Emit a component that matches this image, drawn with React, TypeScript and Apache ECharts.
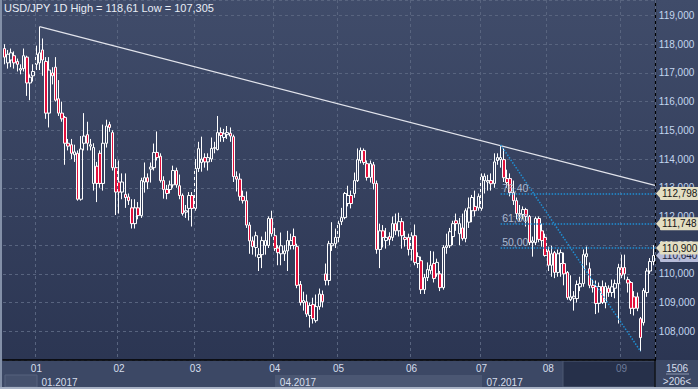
import React, { useEffect, useRef } from "react";
import * as echarts from "echarts";

// [open, close, low, high] per daily bar
const ohlcDec = [
  [117.85, 117.55, 117.3, 118.0], [117.35, 117.65, 117.15, 117.8], [117.45, 117.7, 117.2, 117.85],
  [117.6, 117.35, 117.15, 117.75], [117.4, 117.3, 117.05, 117.5], [117.1, 117.15, 116.95, 117.3],
  [117.15, 117.6, 117.05, 117.85], [117.55, 116.65, 116.2, 117.6], [116.65, 116.85, 116.05, 116.95],
  [116.9, 117.05, 116.7, 117.3],
];
const ohlcJan = [
  [117.3, 117.65, 117.1, 117.95], [117.35, 117.7, 117.1, 118.61], [117.8, 117.45, 116.9, 118.2],
  [117.4, 115.6, 115.4, 117.55], [115.6, 117.1, 115.1, 117.55], [117.0, 116.9, 116.6, 117.2],
  [117.2, 116.05, 116.0, 117.55], [116.1, 115.6, 115.5, 116.75], [115.6, 115.4, 115.3, 116.0],
  [115.45, 114.55, 113.8, 115.5], [114.55, 114.45, 114.3, 114.7], [114.5, 114.2, 114.0, 114.7],
  [114.15, 114.25, 113.9, 114.5], [114.2, 112.6, 112.55, 114.3], [112.6, 114.35, 112.55, 114.8],
  [114.55, 114.8, 114.3, 115.6], [114.85, 114.55, 114.3, 115.3], [114.45, 114.5, 114.3, 114.7],
  [113.15, 114.4, 112.9, 114.55], [113.75, 113.15, 112.5, 113.9], [114.2, 113.15, 113.0, 114.3],
  [113.15, 114.55, 112.9, 115.2], [114.55, 115.15, 114.4, 115.37], [115.2, 115.1, 114.95, 115.3],
  [114.92, 113.7, 113.6, 115.0], [113.7, 112.85, 112.05, 114.0],
];
const ohlcFeb = [
  [113.2, 112.85, 112.1, 113.95], [112.85, 113.2, 112.6, 113.5], [112.77, 112.66, 112.3, 113.5],
  [112.68, 112.55, 112.4, 112.8], [112.3, 111.75, 111.58, 112.6], [111.75, 112.3, 111.58, 112.6],
  [112.3, 112.03, 111.9, 112.5], [112.03, 113.25, 111.95, 113.35], [113.2, 113.35, 112.83, 113.88],
  [113.35, 113.2, 112.95, 113.5], [113.65, 113.72, 113.18, 113.88], [113.7, 114.23, 113.6, 114.54],
  [114.23, 114.05, 113.95, 114.96], [114.1, 113.25, 113.18, 114.2], [113.25, 112.94, 112.62, 113.4],
  [112.94, 112.8, 112.6, 113.1], [112.94, 113.1, 112.8, 113.25], [113.1, 113.6, 113.0, 113.77],
  [113.6, 113.1, 113.0, 113.7], [113.07, 112.73, 112.6, 113.46], [112.73, 112.1, 112.03, 112.8],
  [112.15, 112.2, 111.95, 112.4], [112.28, 112.73, 111.86, 112.85], [112.73, 112.28, 111.65, 112.85],
];
const ohlcMar = [
  [112.28, 113.67, 112.2, 114.0], [113.67, 114.36, 113.55, 114.6], [113.88, 114.0, 113.56, 114.78],
  [114.05, 113.9, 113.7, 114.2], [113.9, 114.05, 113.6, 114.2], [114.0, 114.37, 113.9, 114.75],
  [114.37, 114.4, 114.2, 114.6], [114.33, 114.92, 114.3, 115.5], [114.92, 114.82, 114.6, 115.1],
  [114.75, 114.88, 114.6, 115.05], [114.85, 114.92, 114.7, 115.15], [114.9, 114.8, 114.6, 115.1],
  [114.78, 113.39, 113.2, 114.85], [113.39, 113.3, 112.87, 113.57], [113.3, 112.7, 112.55, 113.5],
  [112.7, 112.55, 112.45, 112.9], [112.55, 111.7, 111.6, 112.87], [111.7, 111.15, 110.7, 111.8],
  [111.15, 110.95, 110.67, 111.3], [110.92, 111.33, 110.6, 111.47], [110.57, 110.67, 110.1, 110.9],
  [110.67, 111.16, 110.2, 111.3], [110.99, 111.16, 110.67, 111.47], [110.99, 111.93, 110.9, 112.0],
  [111.93, 111.4, 111.3, 112.2],
];
const ohlcApr = [
  [111.33, 110.88, 110.8, 111.6], [110.9, 110.74, 110.3, 111.0], [110.7, 110.98, 110.3, 111.44],
  [110.7, 110.8, 110.45, 111.0], [110.8, 111.16, 110.1, 111.5], [110.99, 111.16, 110.85, 111.4],
  [111.3, 110.99, 110.85, 111.58], [110.95, 109.6, 109.5, 111.05], [109.63, 109.0, 108.9, 109.75],
  [109.0, 109.07, 108.72, 109.38], [109.03, 108.6, 108.5, 109.28], [108.55, 108.9, 108.13, 109.0],
  [108.93, 108.44, 108.27, 109.17], [108.37, 108.86, 108.3, 109.28], [108.86, 109.3, 108.75, 109.49],
  [109.28, 109.03, 108.83, 109.42], [110.0, 109.77, 109.6, 110.36], [109.77, 111.05, 109.6, 111.15],
  [110.98, 111.05, 110.8, 111.8], [111.05, 111.27, 110.9, 111.58],
];
const ohlcMay = [
  [111.27, 111.75, 111.1, 111.85], [111.82, 111.96, 111.7, 112.3], [111.96, 112.8, 111.9, 112.85],
  [112.45, 112.73, 112.35, 113.07], [112.73, 112.45, 112.28, 112.9], [112.8, 113.25, 112.65, 113.53],
  [113.25, 113.98, 113.2, 114.37], [113.95, 114.3, 113.85, 114.4], [114.3, 113.88, 113.8, 114.37],
  [113.84, 113.36, 113.25, 113.95], [113.36, 113.84, 113.18, 113.95], [113.8, 113.15, 112.94, 113.9],
  [113.15, 110.85, 110.7, 113.25], [110.85, 111.5, 110.2, 111.75], [111.5, 111.27, 110.92, 111.7],
  [111.16, 111.27, 110.88, 111.6], [111.3, 111.2, 111.0, 111.45], [111.27, 111.75, 111.15, 112.0],
  [111.75, 111.5, 111.35, 112.1], [111.5, 111.82, 111.3, 112.13], [111.82, 111.33, 110.88, 111.95],
  [111.27, 111.2, 110.95, 111.5], [111.27, 110.85, 110.64, 111.4],
];
const ohlcJun = [
  [110.85, 111.33, 110.46, 111.45], [111.33, 110.4, 110.3, 111.72], [110.36, 110.6, 110.2, 110.75],
  [110.46, 109.45, 109.3, 110.6], [109.45, 109.87, 109.3, 110.0], [109.87, 110.15, 109.75, 110.4],
  [110.12, 110.3, 110.0, 110.8], [110.36, 109.84, 109.7, 110.78], [110.0, 110.4, 109.9, 110.53],
  [110.0, 109.52, 109.4, 110.1], [109.52, 110.92, 109.45, 111.0], [110.92, 110.98, 110.7, 111.4],
  [110.98, 111.47, 110.9, 111.6], [111.3, 111.75, 111.0, 111.85], [111.85, 111.75, 111.5, 112.1],
  [111.4, 111.75, 111.0, 111.95], [111.6, 111.23, 111.16, 112.1], [111.23, 112.2, 111.1, 112.28],
  [111.8, 112.3, 111.6, 112.66], [112.2, 112.66, 111.8, 112.75], [112.35, 112.2, 112.0, 112.9],
  [112.3, 112.7, 112.2, 112.8],
];
const ohlcJul = [
  [112.28, 113.4, 112.2, 113.5], [113.25, 113.4, 112.8, 113.5], [113.2, 113.25, 112.9, 113.45],
  [113.25, 113.14, 112.9, 113.5], [113.15, 113.9, 113.0, 114.2], [113.95, 114.05, 113.8, 114.2],
  [113.98, 114.05, 113.7, 114.49], [113.98, 113.35, 113.2, 114.37], [113.32, 113.18, 113.0, 113.63],
  [113.32, 112.83, 112.7, 113.5], [112.83, 112.55, 112.4, 113.25], [112.55, 112.1, 111.9, 112.66],
  [112.1, 112.05, 111.85, 112.4], [112.07, 112.24, 111.9, 112.35], [112.24, 112.0, 111.65, 112.3],
  [112.0, 111.09, 111.0, 112.05], [111.09, 111.15, 110.6, 111.3], [111.09, 111.93, 111.0, 112.0],
  [111.93, 111.2, 111.1, 112.0], [111.5, 111.16, 110.95, 111.75], [111.27, 110.64, 110.6, 111.4],
];
const ohlcAug = [
  [110.8, 110.3, 110.1, 110.95], [110.3, 110.7, 109.9, 110.98], [110.74, 110.05, 109.85, 110.8],
  [110.05, 110.7, 109.9, 110.85], [110.36, 110.74, 109.9, 110.85], [110.36, 110.0, 109.6, 110.74],
  [110.05, 109.17, 109.1, 110.1], [109.1, 109.2, 109.05, 109.95], [109.15, 109.22, 108.72, 109.4],
  [109.14, 109.63, 109.0, 109.77], [109.55, 109.66, 109.4, 109.9], [109.66, 110.67, 109.55, 110.85],
  [110.6, 110.7, 110.3, 110.95], [110.18, 109.6, 109.5, 110.4], [109.6, 109.52, 109.35, 109.8],
  [109.56, 108.97, 108.6, 109.77], [108.97, 109.56, 108.65, 109.7], [109.56, 109.0, 108.95, 109.77],
  [109.0, 109.56, 108.8, 109.7], [109.5, 109.35, 109.2, 109.6], [109.35, 109.55, 109.2, 109.8],
  [109.5, 109.66, 109.15, 109.8], [109.66, 110.22, 108.27, 110.35],
];
const ohlcSep = [
  [110.22, 109.95, 109.85, 110.67], [110.22, 110.0, 109.8, 110.67], [109.8, 109.68, 109.35, 109.9],
  [109.7, 108.8, 108.6, 109.75], [109.2, 108.8, 108.55, 109.4], [109.2, 108.8, 108.7, 109.35],
  [108.44, 107.78, 107.305, 108.5], [108.3, 109.42, 108.2, 109.5], [109.35, 110.1, 109.2, 110.2],
  [110.1, 110.43, 110.0, 110.55], [110.43, 110.64, 110.3, 111.0],
];

const candles = [
  ...ohlcDec, ...ohlcJan, ...ohlcFeb, ...ohlcMar, ...ohlcApr,
  ...ohlcMay, ...ohlcJun, ...ohlcJul, ...ohlcAug, ...ohlcSep,
];

const titleText = "USD/JPY 1D High = 118,61 Low = 107,305";
const fibLevels = [112.798, 111.748, 110.9];
const fibLabels = ["76,40", "61,80", "50,00"];
const swingHigh = { index: 156, price: 114.495 };
const swingLow = { index: 200, price: 107.305 };
const trendStart = { index: 11, price: 118.61 };
const trendEnd = { index: 204, price: 113.08 };
const lastPrice = 110.64;
const barsInfo = ["1506", ">206<"];
const quarterMonths = ["01", "04", "07", "10"];

const FONT = "'Liberation Sans', Arial, sans-serif";
const W = 698;
const H = 389;
const GRID = { left: 3, right: 43, top: 0, bottom: 29 };
const plotRight = W - GRID.right;
const plotBottom = H - GRID.bottom;
const FIB_TAG = "#e3dec2";
const PRICE_TAG = "#b7bcd9";

// trading-day categories (Sunday sessions appear in the feed from Jan 8 to Mar 12)
function buildDates(n: number): string[] {
  const out: string[] = [];
  const d = new Date(Date.UTC(2016, 11, 19));
  const sunFrom = Date.UTC(2017, 0, 8);
  const sunTo = Date.UTC(2017, 2, 12);
  while (out.length < n) {
    const dow = d.getUTCDay();
    const t = d.getTime();
    if ((dow >= 1 && dow <= 5) || (dow === 0 && t >= sunFrom && t <= sunTo)) {
      out.push(d.toISOString().slice(0, 10));
    }
    d.setUTCDate(d.getUTCDate() + 1);
  }
  return out;
}

const fmt = (v: number) => v.toFixed(3).replace(".", ",");

export default function App() {
  const ref = useRef<HTMLDivElement>(null);
  useEffect(() => {
    if (!ref.current) return;
    const chart = echarts.init(ref.current, undefined, { renderer: "svg" });
    const dates = buildDates(candles.length);
    const isMonthStart = (i: number) => i > 0 && dates[i].slice(5, 7) !== dates[i - 1].slice(5, 7);
    const isQuarterStart = (i: number) => isMonthStart(i) && quarterMonths.includes(dates[i].slice(5, 7));
    const last = candles.length - 1;
    const fibStyle = { color: "#1f8fd3", width: 1.5, type: "dotted" as const };
    const tag = (text: string, bg: string, fg: string) => ({
      show: true,
      position: "end",
      distance: 5,
      formatter: text,
      backgroundColor: bg,
      color: fg,
      opacity: 1,
      padding: [2, 2, 1, 2],
      fontSize: 10,
      fontFamily: FONT,
      borderRadius: 1,
    });
    const arrow = (v: number, color: string) => ({
      coord: [dates[last], v],
      x: plotRight + 3.5,
      symbol: "triangle",
      symbolSize: [11, 5],
      symbolRotate: 90,
      itemStyle: { color },
      label: { show: false },
    });

    chart.setOption({
      animation: false,
      backgroundColor: {
        type: "linear", x: 0, y: 0, x2: 0, y2: 1,
        colorStops: [{ offset: 0, color: "#404c6a" }, { offset: 1, color: "#2a3451" }],
      },
      title: {
        text: titleText, left: 4, top: 2, padding: 0,
        textStyle: { color: "#e8edf6", fontSize: 11, fontWeight: "normal", fontFamily: FONT },
      },
      grid: { ...GRID },
      xAxis: [
        {
          type: "category", data: dates, boundaryGap: true, z: 5,
          axisLine: { show: true, lineStyle: { color: "#000", width: 1.5 } },
          axisTick: { show: false },
          axisLabel: {
            interval: (i: number) => isMonthStart(i),
            formatter: (v: string) => v.slice(5, 7),
            color: (v: string) => (v && v.slice(5, 7) === "09" ? "#6d7b99" : "#d6deec"),
            fontSize: 10, fontFamily: FONT, margin: 3,
          },
          splitLine: {
            show: true, interval: (i: number) => isMonthStart(i),
            lineStyle: { color: "#58647f", type: [3, 3], width: 1 },
          },
        },
        {
          type: "category", data: dates, position: "bottom", offset: 14, z: 5,
          axisLine: { show: false }, axisTick: { show: false }, splitLine: { show: false },
          axisLabel: {
            interval: (i: number) => isQuarterStart(i),
            formatter: (v: string) => `${v.slice(5, 7)}.${v.slice(0, 4)}`,
            align: "left", padding: [0, 0, 0, 5],
            color: "#d6deec", fontSize: 10, fontFamily: FONT, margin: 3,
          },
        },
      ],
      yAxis: {
        type: "value", position: "right", min: 107, max: 119.54, interval: 1,
        axisLine: { show: true, lineStyle: { color: "#000", width: 1.2 } },
        axisTick: { show: false },
        axisLabel: {
          formatter: (v: number) =>
            v >= 108 && v <= 119 && Math.abs(v - Math.round(v)) < 1e-9 ? fmt(v) : "",
          color: "#c3d6ef", fontSize: 10, fontFamily: FONT, margin: 4,
        },
        splitLine: { show: true, lineStyle: { color: "#58647f", type: [3, 3], width: 1 } },
      },
      series: [
        {
          type: "candlestick",
          data: candles,
          barWidth: 3,
          itemStyle: {
            color: "rgba(0,0,0,0)", color0: "#e3103c",
            borderColor: "#ffffff", borderColor0: "#ffffff", borderWidth: 1,
          },
          markLine: {
            silent: true, symbol: ["none", "none"], animation: false,
            label: { show: false },
            data: [
              [
                {
                  coord: [dates[trendStart.index], trendStart.price],
                  lineStyle: { color: "#e2e4ec", width: 1.2, type: "solid" },
                  label: { show: false },
                },
                { coord: [dates[trendEnd.index], trendEnd.price], x: plotRight },
              ],
              [
                { coord: [dates[swingHigh.index], swingHigh.price], lineStyle: fibStyle, label: { show: false } },
                { coord: [dates[swingLow.index], swingLow.price] },
              ],
              [
                {
                  coord: [dates[last], lastPrice],
                  lineStyle: { color: "rgba(0,0,0,0)", width: 0.1, opacity: 1 },
                  label: tag(fmt(lastPrice), PRICE_TAG, "#1c2440"),
                },
                { coord: [dates[last], lastPrice], x: plotRight },
              ],
              ...fibLevels.map((v) => [
                {
                  coord: [dates[swingHigh.index], v],
                  lineStyle: fibStyle,
                  label: tag(fmt(v), FIB_TAG, "#151515"),
                },
                { coord: [dates[last], v], x: plotRight },
              ]),
            ],
          },
          markPoint: {
            silent: true, animation: false,
            data: [
              ...fibLevels.map((v, k) => ({
                coord: [dates[swingHigh.index], v],
                symbol: "circle",
                symbolSize: 1,
                itemStyle: { color: "rgba(0,0,0,0)" },
                label: {
                  show: true, position: "right", distance: 1, offset: [0, -6],
                  formatter: fibLabels[k], color: "#aab8d0", fontSize: 10.5, fontFamily: FONT,
                },
              })),
              arrow(lastPrice, PRICE_TAG),
              ...fibLevels.map((v) => arrow(v, FIB_TAG)),
            ],
          },
        },
      ],
      graphic: [
        { type: "rect", z: -1, shape: { x: 0, y: plotBottom, width: W, height: H - plotBottom }, style: { fill: "#3c4865" } },
        { type: "rect", z: -1, shape: { x: 5, y: 375, width: 32, height: 12 }, style: { fill: "#45516d", stroke: "#56627e" } },
        { type: "rect", z: -1, shape: { x: 275, y: 375, width: 207, height: 12 }, style: { fill: "#4b5773" } },
        { type: "rect", z: -1, shape: { x: 563, y: 361, width: plotRight - 563, height: 26 }, style: { fill: "#26304a", stroke: "#4d5873" } },
        { type: "rect", z: -1, shape: { x: 0, y: 0, width: 2, height: H }, style: { fill: "#8390a8" } },
        { type: "rect", z: -1, shape: { x: 0, y: H - 2, width: W, height: 2 }, style: { fill: "#a8b2c5" } },
        { type: "line", z: 6, shape: { x1: plotRight, y1: plotBottom, x2: plotRight, y2: H - 2 }, style: { stroke: "#000", lineWidth: 1.2 } },
        { type: "line", z: 6, shape: { x1: 666, y1: 374, x2: 689, y2: 374 }, style: { stroke: "#8a96b0", lineWidth: 1 } },
        {
          type: "text", z: 6,
          style: { text: barsInfo[0], x: 677, y: 368, align: "center", verticalAlign: "middle", fill: "#d6deec", font: `10px ${FONT}` },
        },
        {
          type: "text", z: 6,
          style: { text: barsInfo[1], x: 677, y: 381, align: "center", verticalAlign: "middle", fill: "#d6deec", font: `10px ${FONT}` },
        },
      ],
    });
    return () => chart.dispose();
  }, []);
  return <div ref={ref} style={{ position: "fixed", left: 0, top: 0, width: W, height: H }} />;
}
